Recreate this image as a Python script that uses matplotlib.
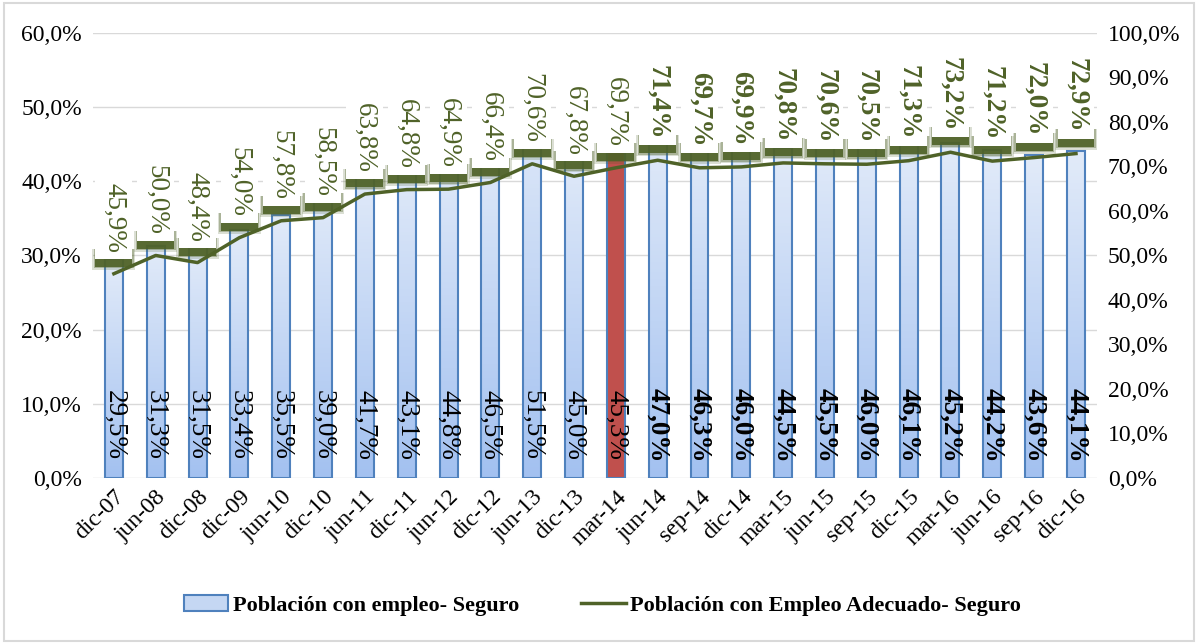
import numpy as np
import matplotlib
matplotlib.use("Agg")
import matplotlib.pyplot as plt
from matplotlib.patches import Rectangle
from matplotlib.lines import Line2D
from matplotlib.ticker import FuncFormatter

plt.rcParams['font.family'] = ['Liberation Serif', 'DejaVu Serif']

# Datos
periodos = ['dic-07', 'jun-08', 'dic-08', 'dic-09', 'jun-10', 'dic-10', 'jun-11', 'dic-11',
            'jun-12', 'dic-12', 'jun-13', 'dic-13', 'mar-14', 'jun-14', 'sep-14', 'dic-14',
            'mar-15', 'jun-15', 'sep-15', 'dic-15', 'mar-16', 'jun-16', 'sep-16', 'dic-16']
empleo_seguro = [29.5, 31.3, 31.5, 33.4, 35.5, 39.0, 41.7, 43.1, 44.8, 46.5, 51.5, 45.0,
                 45.3, 47.0, 46.3, 46.0, 44.5, 45.5, 46.0, 46.1, 45.2, 44.2, 43.6, 44.1]
adecuado_seguro = [45.9, 50.0, 48.4, 54.0, 57.8, 58.5, 63.8, 64.8, 64.9, 66.4, 70.6, 67.8,
                   69.7, 71.4, 69.7, 69.9, 70.8, 70.6, 70.5, 71.3, 73.2, 71.2, 72.0, 72.9]
destacado = 'mar-14'
inicio_negrita = 'jun-14'

def pct(v, pos=None):
    return f"{v:.1f}%".replace('.', ',')

verde = '#4f6228'
azul_borde = '#4f81bd'
rojo = '#c0504d'

fig = plt.figure(figsize=(11.98, 6.44), dpi=100)
ax = fig.add_axes([0.0776, 0.2578, 0.838, 0.691])
ax2 = ax.twinx()

x = np.arange(len(periodos))
ancho = 0.43
i_neg = periodos.index(inicio_negrita)

# barras con degradado
grad = np.linspace(0, 1, 100).reshape(-1, 1)
cmap = matplotlib.colors.LinearSegmentedColormap.from_list('g', ['#a3c1f0', '#e2ebf9'])
barras = ax.bar(x, empleo_seguro, width=ancho, facecolor='none', edgecolor=azul_borde,
                linewidth=1.5, zorder=3)
for xi, v, p, b in zip(x, empleo_seguro, periodos, barras):
    if p == destacado:
        b.set_facecolor(rojo)
    else:
        ax.imshow(grad, extent=[xi - ancho / 2, xi + ancho / 2, 0, v], origin='lower',
                  cmap=cmap, aspect='auto', zorder=2)
    ax.text(xi, 7.1, pct(v), rotation=270, ha='center', va='center', fontsize=19.5,
            color='black', fontweight='bold' if xi >= i_neg else 'normal', zorder=5)

ax.set_xlim(-0.5, len(periodos) - 0.5)
ax.set_ylim(0, 60)
ax.set_yticks(np.arange(0, 61, 10))
ax.yaxis.set_major_formatter(FuncFormatter(pct))
ax.grid(axis='y', color='#d9d9d9', linewidth=1, zorder=0)
ax.set_axisbelow(True)
ax.set_xticks(x)
ax.set_xticklabels(periodos, rotation=45, ha='right', rotation_mode='anchor')
ax.tick_params(axis='both', length=0, labelsize=17, pad=8)
ax.tick_params(axis='x', pad=6)

# línea
ax2.plot(x, adecuado_seguro, color=verde, linewidth=2.5, zorder=3)
etiquetas = []
for xi, v in zip(x, adecuado_seguro):
    peso = 'bold' if xi >= i_neg else 'normal'
    t = ax2.annotate(pct(v), (xi, v), xytext=(0, 15), textcoords='offset points', rotation=270,
                     ha='center', va='bottom', fontsize=19.5, color=verde, fontweight=peso,
                     bbox=dict(boxstyle='square,pad=0.22', fc='white', ec='none'), zorder=5)
    etiquetas.append(t)
ax2.set_ylim(0, 100)
ax2.set_yticks(np.arange(0, 101, 10))
ax2.yaxis.set_major_formatter(FuncFormatter(pct))
ax2.tick_params(axis='y', length=0, labelsize=17, pad=8)

for a in (ax, ax2):
    for s in a.spines.values():
        s.set_visible(False)

# sombra verde bajo las cajas de etiquetas
fig.canvas.draw()
inv = ax2.transData.inverted()
for t in etiquetas:
    bb = t.get_bbox_patch().get_window_extent()
    for k, alfa in [(3, 0.2), (1.5, 0.35), (0, 0.9)]:
        x0, y0 = inv.transform((bb.x0 - k, bb.y0 - 8 - k))
        x1, y1 = inv.transform((bb.x1 + k, bb.y0 + 10))
        ax2.add_patch(Rectangle((x0, y0), x1 - x0, y1 - y0, facecolor=verde, edgecolor='none',
                                alpha=alfa, zorder=4, clip_on=False))

# leyenda
h1 = Rectangle((0, 0), 1, 1, facecolor='#c5d7f3', edgecolor=azul_borde, linewidth=1.5)
h2 = Line2D([0], [0], color=verde, linewidth=2.5)
fig.legend([h1, h2], ['Población con empleo- Seguro', 'Población con Empleo Adecuado- Seguro'],
           loc='center', bbox_to_anchor=(0.503, 0.06), ncol=2, frameon=False,
           prop={'weight': 'bold', 'size': 16}, columnspacing=2.8, handlelength=2.0,
           handletextpad=0.2)

fig.patches.append(Rectangle((0.003, 0.005), 0.994, 0.99, transform=fig.transFigure,
                             fill=False, edgecolor='#d9d9d9', linewidth=1.5))

fig.savefig('out.png', dpi=100)
